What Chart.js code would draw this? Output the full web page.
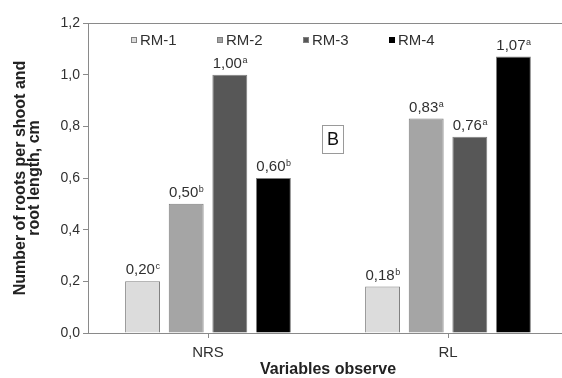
<!DOCTYPE html>
<html>
<head>
<meta charset="utf-8">
<script src="https://cdn.jsdelivr.net/npm/chart.js@4"></script>
<style>
  html, body { margin: 0; padding: 0; background: #fff; overflow: hidden; }
  #wrap { width: 572px; height: 378px; }
</style>
</head>
<body>
<div id="wrap"><canvas id="chart" width="572" height="378"></canvas></div>
<script>
// Root measurements, panel B
const categories = ['NRS', 'RL'];
const seriesNames = ['RM-1', 'RM-2', 'RM-3', 'RM-4'];
const rm1 = [0.20, 0.18];
const rm2 = [0.50, 0.83];
const rm3 = [1.00, 0.76];
const rm4 = [0.60, 1.07];
// significance letters shown next to each value
const rm1Letters = ['c', 'b'];
const rm2Letters = ['b', 'a'];
const rm3Letters = ['a', 'a'];
const rm4Letters = ['b', 'a'];
const yTicks = [0, 0.2, 0.4, 0.6, 0.8, 1.0, 1.2];

const FONT = '"Liberation Sans", Arial, sans-serif';
const COLORS = {
    fills: ['#dcdcdc', '#a5a5a5', '#575757', '#000000'],
    border: '#7f7f7f',
    axis: '#8a8a8a',
    text: '#303030'
};

const values = [rm1, rm2, rm3, rm4];
const letters = [rm1Letters, rm2Letters, rm3Letters, rm4Letters];

function fmt(v) {
    return v.toFixed(2).replace('.', ',');
}

// value labels with superscript letters above each bar
const barLabels = {
    id: 'barLabels',
    afterDatasetsDraw(chart) {
        const ctx = chart.ctx;
        ctx.save();
        ctx.fillStyle = COLORS.text;
        ctx.textBaseline = 'alphabetic';
        chart.data.datasets.forEach((ds, di) => {
            const meta = chart.getDatasetMeta(di);
            meta.data.forEach((bar, i) => {
                const main = fmt(ds.data[i]);
                const sup = letters[di][i];
                ctx.font = '15px ' + FONT;
                const wMain = ctx.measureText(main).width;
                ctx.font = '9px ' + FONT;
                const wSup = ctx.measureText(sup).width;
                const x0 = bar.x - (wMain + wSup) / 2;
                const y = bar.y - 7;
                ctx.font = '15px ' + FONT;
                ctx.textAlign = 'left';
                ctx.fillText(main, x0, y);
                ctx.font = '9px ' + FONT;
                ctx.fillText(sup, x0 + wMain + 0.5, y - 5);
            });
        });
        ctx.restore();
    }
};

// legend drawn inside the plot, top line of the frame and the "B" box
const extras = {
    id: 'extras',
    afterDraw(chart) {
        const ctx = chart.ctx;
        const a = chart.chartArea;
        ctx.save();
        // top frame line
        ctx.strokeStyle = COLORS.axis;
        ctx.lineWidth = 1;
        ctx.beginPath();
        ctx.moveTo(a.left, a.top + 0.5);
        ctx.lineTo(a.right, a.top + 0.5);
        ctx.stroke();

        // legend
        ctx.font = '15px ' + FONT;
        ctx.textBaseline = 'middle';
        ctx.textAlign = 'left';
        seriesNames.forEach((name, i) => {
            const x = a.left + 43 + i * 86;
            const y = a.top + 17;
            ctx.fillStyle = COLORS.fills[i];
            ctx.fillRect(x, y - 3, 6, 6);
            ctx.strokeStyle = i === 3 ? '#000' : COLORS.border;
            ctx.strokeRect(x + 0.5, y - 2.5, 5, 5);
            ctx.fillStyle = COLORS.text;
            ctx.fillText(name, x + 9, y + 1);
        });

        // panel letter
        ctx.strokeStyle = '#9a9a9a';
        ctx.strokeRect(322.5, 125.5, 21, 28);
        ctx.fillStyle = '#111';
        ctx.font = '18px ' + FONT;
        ctx.textAlign = 'center';
        ctx.fillText('B', 333, 140);
        ctx.restore();
    }
};

const datasets = seriesNames.map((name, i) => ({
    label: name,
    data: values[i],
    backgroundColor: COLORS.fills[i],
    borderColor: COLORS.border,
    borderWidth: 1,
    categoryPercentage: 0.727,
    barPercentage: 0.8
}));

new Chart(document.getElementById('chart'), {
    type: 'bar',
    data: { labels: categories, datasets: datasets },
    options: {
        responsive: false,
        animation: false,
        layout: { padding: { top: 23, right: 4, bottom: 0, left: 0 } },
        plugins: {
            legend: { display: false },
            tooltip: { enabled: false }
        },
        scales: {
            x: {
                grid: { drawOnChartArea: false, drawTicks: true, tickLength: 5, offset: false, color: COLORS.axis },
                border: { color: COLORS.axis, width: 1 },
                ticks: { color: COLORS.text, font: { family: FONT, size: 15 }, padding: 6 },
                title: {
                    display: true,
                    text: 'Variables observe',
                    color: '#222',
                    font: { family: FONT, size: 16, weight: 'bold', lineHeight: 1.0 },
                    padding: { top: 0, bottom: 0 }
                },
                afterFit: (scale) => { scale.height = 45; }
            },
            y: {
                min: 0,
                max: 1.2,
                afterBuildTicks: (scale) => { scale.ticks = yTicks.map(v => ({ value: v })); },
                grid: { drawOnChartArea: false, drawTicks: true, tickLength: 5, color: COLORS.axis },
                border: { color: COLORS.axis, width: 1 },
                ticks: {
                    color: COLORS.text,
                    font: { family: FONT, size: 14 },
                    padding: 3,
                    callback: (v) => v.toFixed(1).replace('.', ',')
                },
                title: {
                    display: true,
                    text: ['Number of roots per shoot and', 'root length, cm'],
                    color: '#222',
                    font: { family: FONT, size: 16, weight: 'bold', lineHeight: 0.9 },
                    padding: { top: 13, bottom: 4 }
                },
                afterFit: (scale) => { scale.width = 88; }
            }
        }
    },
    plugins: [barLabels, extras]
});
</script>
</body>
</html>
